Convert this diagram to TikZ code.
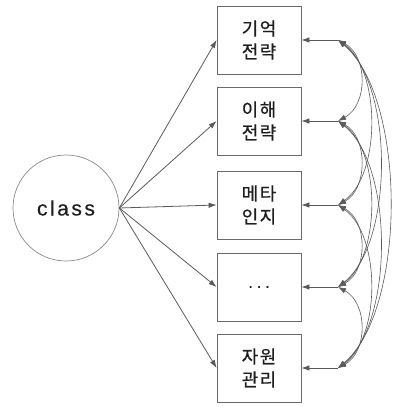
\documentclass[tikz,border=0pt]{standalone}
\usepackage{fontspec}
\setmainfont{Liberation Sans}
\newfontfamily\krfont[LetterSpace=8,FakeBold=0.6]{Noto Sans CJK KR}
\newfontfamily\latfont[LetterSpace=12,FakeBold=0.3]{Liberation Sans}
\newfontfamily\dotfont[LetterSpace=25,FakeBold=0.6]{Liberation Sans}
\usetikzlibrary{arrows.meta}
\definecolor{edgegray}{HTML}{5A5A5A}
\definecolor{boxgray}{HTML}{6A6A6A}
\definecolor{inkgray}{HTML}{1E1E1E}
\tikzset{
  latent/.style={circle, draw=boxgray!80, line width=0.7pt, minimum size=106pt,
    inner sep=0pt, text=inkgray, font=\latfont\fontsize{21}{25}\selectfont},
  indicator/.style={rectangle, draw=boxgray, line width=0.8pt, minimum width=84pt,
    minimum height=68pt, inner sep=0pt, align=center, text=inkgray,
    font=\krfont\fontsize{18}{23}\selectfont},
  loading/.style={draw=edgegray, line width=0.8pt, -{Latex[length=8pt,width=5.5pt]}},
  errpath/.style={draw=edgegray, line width=0.8pt, -{Latex[length=8pt,width=5.5pt]}},
  covpath/.style={draw=edgegray, line width=0.6pt,
    {Latex[length=8pt,width=5.5pt]}-{Latex[length=8pt,width=5.5pt]}},
}
\begin{document}
\begin{tikzpicture}[x=1pt, y=-1pt]
\useasboundingbox (0,0) rectangle (393,407);

% latent factor
\node[latent] (cls) at (66,208) {class};

% indicators
\node[indicator] (b1) at (259,40)  {기억\\전략};
\node[indicator] (b2) at (259,121) {이해\\전략};
\node[indicator] (b3) at (259,205) {메타\\인지};
\node[indicator, font=\dotfont\fontsize{16}{20}\selectfont] (b4) at (259,287) {...};
\node[indicator] (b5) at (259,368) {자원\\관리};

% factor loadings
\foreach \b in {b1,b2,b3,b4,b5}
  \draw[loading] (cls.east) -- (\b.west);

% residual hubs
\coordinate (h1) at (338,40);
\coordinate (h2) at (338,121);
\coordinate (h3) at (338,205);
\coordinate (h4) at (338,287);
\coordinate (h5) at (338,368);

\foreach \i/\b in {1/b1,2/b2,3/b3,4/b4,5/b5}
  \draw[errpath] (h\i) -- (\b.east);

% residual covariances
\foreach \i/\j in {1/2,2/3,3/4,4/5}
  \draw[covpath] (h\i) .. controls +(30,16) and +(30,-16) .. (h\j);
\foreach \i/\j in {1/3,2/4,3/5}
  \draw[covpath] (h\i) .. controls +(43,30) and +(43,-30) .. (h\j);
\foreach \i/\j in {1/4,2/5}
  \draw[covpath] (h\i) .. controls +(56,44) and +(56,-44) .. (h\j);
\draw[covpath] (h1) .. controls +(69,58) and +(69,-58) .. (h5);
\end{tikzpicture}
\end{document}
